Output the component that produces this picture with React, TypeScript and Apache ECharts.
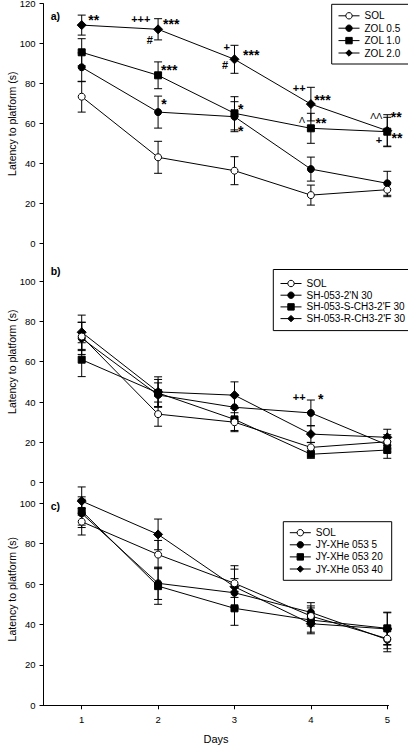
import React, { useEffect, useRef } from 'react';
import * as echarts from 'echarts';

const FONT = '"Liberation Sans", Arial, Helvetica, sans-serif';

const DAYS = [1, 2, 3, 4, 5];
const Y_TICKS_A = [0, 20, 40, 60, 80, 100, 120];
const Y_TICKS_BC = [0, 20, 40, 60, 80, 100];

// Panel a
const A_NAMES = ['SOL', 'ZOL 0.5', 'ZOL 1.0', 'ZOL 2.0'];
const A_SOL = [73.5, 43.2, 36.5, 24.3, 27.0];
const A_SOL_ERR = [7.7, 8.0, 7.0, 5.0, 3.5];
const A_ZOL05 = [88.2, 65.8, 63.5, 37.3, 30.2];
const A_ZOL05_ERR = [7.2, 8.0, 7.5, 6.0, 6.0];
const A_ZOL10 = [95.7, 84.2, 65.2, 57.7, 56.0];
const A_ZOL10_ERR = [6.8, 6.7, 8.3, 7.5, 7.2];
const A_ZOL20 = [109.3, 107.2, 92.2, 69.8, 56.5];
const A_ZOL20_ERR = [5.0, 5.3, 7.0, 8.4, 8.0];

// Panel b
const B_NAMES = ['SOL', "SH-053-2'N 30", "SH-053-S-CH3-2'F 30", "SH-053-R-CH3-2'F 30"];
const B_SOL = [72.5, 34.0, 30.0, 17.5, 20.3];
const B_SOL_ERR = [7.0, 6.0, 4.7, 2.5, 3.5];
const B_2N = [71.6, 43.5, 37.4, 34.6, 18.7];
const B_2N_ERR = [8.0, 6.0, 6.0, 6.4, 3.5];
const B_S = [61.0, 44.5, 31.4, 14.1, 16.2];
const B_S_ERR = [8.4, 6.7, 5.5, 2.0, 4.1];
const B_R = [74.6, 45.0, 43.4, 24.1, 22.5];
const B_R_ERR = [8.5, 7.5, 6.6, 4.2, 4.0];

// Panel c
const C_NAMES = ['SOL', 'JY-XHe 053 5', 'JY-XHe 053 20', 'JY-XHe 053 40'];
const C_SOL = [90.9, 74.6, 60.4, 44.2, 33.0];
const C_SOL_ERR = [6.6, 7.0, 7.0, 5.0, 5.0];
const C_5 = [95.0, 60.4, 55.7, 46.0, 32.5];
const C_5_ERR = [7.0, 8.0, 7.0, 4.8, 6.0];
const C_20 = [96.2, 59.0, 48.0, 42.2, 38.1];
const C_20_ERR = [7.0, 9.0, 8.4, 6.0, 8.0];
const C_40 = [101.1, 84.6, 58.7, 40.4, 37.8];
const C_40_ERR = [7.0, 7.6, 10.4, 5.0, 8.0];

// Significance marks: [day position, latency position, text]
const A_MARKS: [number, number, string][] = [
  [1.158, 113.5, '**'],
  [1.774, 112.2, '+++'],
  [2.171, 111.3, '***'],
  [1.89, 101.8, '#'],
  [2.145, 88.5, '***'],
  [2.077, 71.3, '*'],
  [2.898, 98.2, '+'],
  [2.876, 89.3, '#'],
  [3.219, 96.0, '***'],
  [3.081, 69.0, '*'],
  [3.081, 58.0, '*'],
  [3.847, 77.7, '++'],
  [4.152, 73.3, '***'],
  [3.885, 62.0, 'Λ'],
  [4.132, 62.2, '**'],
  [4.855, 63.8, 'ΛΛ'],
  [5.118, 65.2, '**'],
  [4.891, 51.8, '+'],
  [5.127, 54.3, '**'],
];
const B_MARKS: [number, number, string][] = [
  [3.848, 42.6, '++'],
  [4.128, 43.0, '*'],
];

const SYMBOLS = ['circle', 'circle', 'rect', 'diamond'];
const SYMBOL_SIZES = [7, 7, 7, 9];
const FILLS = ['#fff', '#000', '#000', '#000'];

type Panel = {
  names: string[];
  values: number[][];
  errs: number[][];
  marks: [number, number, string][];
};

const PANELS: Panel[] = [
  {
    names: A_NAMES,
    values: [A_SOL, A_ZOL05, A_ZOL10, A_ZOL20],
    errs: [A_SOL_ERR, A_ZOL05_ERR, A_ZOL10_ERR, A_ZOL20_ERR],
    marks: A_MARKS,
  },
  {
    names: B_NAMES,
    values: [B_SOL, B_2N, B_S, B_R],
    errs: [B_SOL_ERR, B_2N_ERR, B_S_ERR, B_R_ERR],
    marks: B_MARKS,
  },
  {
    names: C_NAMES,
    values: [C_SOL, C_5, C_20, C_40],
    errs: [C_SOL_ERR, C_5_ERR, C_20_ERR, C_40_ERR],
    marks: [],
  },
];

// layout (pixels)
const GRID_LEFT = 43.5;
const GRID_WIDTH = 345;
const GRIDS = [
  { top: 3.7, height: 240, max: 120 },
  { top: 240.7, height: 242, max: 120 },
  { top: 473.0, height: 232.3, max: 115 },
];
const LEGENDS = [
  { left: 331.7, top: 4.3, padding: [6.5, 9, 6, 6.3], itemGap: 2.4 },
  { left: 273.3, top: 269.5, padding: [9, 9, 7, 6.7], itemGap: 1.7 },
  { left: 283.3, top: 521.7, padding: [6, 9, 6.3, 6], itemGap: 2.1 },
];
const PANEL_LABELS = [
  { text: 'a)', y: 15.5 },
  { text: 'b)', y: 270.5 },
  { text: 'c)', y: 505.5 },
];

function buildOption() {
  const grid: any[] = [];
  const xAxis: any[] = [];
  const yAxis: any[] = [];
  const series: any[] = [];
  const legend: any[] = [];

  PANELS.forEach((panel, p) => {
    const g = GRIDS[p];
    grid.push({
      left: GRID_LEFT,
      top: g.top,
      width: GRID_WIDTH,
      height: g.height,
      outerBoundsMode: 'none',
    });
    const isLast = p === PANELS.length - 1;
    xAxis.push({
      gridIndex: p,
      type: 'value',
      min: 0.5,
      max: 5.016,
      show: isLast,
      name: isLast ? 'Days' : '',
      nameLocation: 'middle',
      nameGap: 28,
      nameMoveOverlap: false,
      nameTextStyle: { fontFamily: FONT, fontSize: 11, color: '#000' },
      axisLine: { show: true, onZero: false, lineStyle: { color: '#000', width: 1 } },
      axisTick: { show: true, length: 4, customValues: DAYS, lineStyle: { color: '#000', width: 1 } },
      axisLabel: { show: true, customValues: DAYS, margin: 9, fontFamily: FONT, fontSize: 9.5, color: '#000' },
      splitLine: { show: false },
    });
    const ticks = p === 0 ? Y_TICKS_A : Y_TICKS_BC;
    yAxis.push({
      gridIndex: p,
      type: 'value',
      min: 0,
      max: g.max,
      name: 'Latency to platform (s)',
      nameLocation: 'middle',
      nameGap: 26,
      nameMoveOverlap: false,
      nameTextStyle: { fontFamily: FONT, fontSize: 10.5, color: '#000' },
      axisLine: { show: true, lineStyle: { color: '#000', width: 1 } },
      axisTick: { show: true, length: 4, customValues: ticks, lineStyle: { color: '#000', width: 1 } },
      axisLabel: { show: true, customValues: ticks, margin: 8, fontFamily: FONT, fontSize: 9.5, color: '#000' },
      splitLine: { show: false },
    });

    // error bars
    const errData: number[][] = [];
    panel.values.forEach((vals, j) => {
      vals.forEach((v, i) => {
        const e = panel.errs[j][i];
        errData.push([DAYS[i], v - e, v + e]);
      });
    });
    series.push({
      type: 'custom',
      xAxisIndex: p,
      yAxisIndex: p,
      silent: true,
      z: 2,
      itemStyle: { color: '#000' },
      encode: { x: 0, y: [1, 2] },
      data: errData,
      renderItem: (params: any, api: any) => {
        const x = api.value(0);
        const lo = api.coord([x, api.value(1)]);
        const hi = api.coord([x, api.value(2)]);
        const w = 4;
        const st = { stroke: '#000', lineWidth: 1 };
        return {
          type: 'group',
          children: [
            { type: 'line', shape: { x1: lo[0], y1: lo[1], x2: hi[0], y2: hi[1] }, style: st },
            { type: 'line', shape: { x1: lo[0] - w, y1: lo[1], x2: lo[0] + w, y2: lo[1] }, style: st },
            { type: 'line', shape: { x1: hi[0] - w, y1: hi[1], x2: hi[0] + w, y2: hi[1] }, style: st },
          ],
        };
      },
    });

    // lines
    panel.values.forEach((vals, j) => {
      series.push({
        type: 'line',
        name: panel.names[j],
        xAxisIndex: p,
        yAxisIndex: p,
        data: vals.map((v, i) => [DAYS[i], v]),
        symbol: SYMBOLS[j],
        symbolSize: SYMBOL_SIZES[j],
        showSymbol: true,
        z: 3 + (3 - j),
        lineStyle: { color: '#000', width: 1 },
        itemStyle: { color: FILLS[j], borderColor: '#000', borderWidth: 1 },
        emphasis: { disabled: true },
      });
    });

    // significance marks
    if (panel.marks.length) {
      const marks = panel.marks;
      series.push({
        type: 'custom',
        xAxisIndex: p,
        yAxisIndex: p,
        silent: true,
        z: 10,
        clip: false,
        itemStyle: { color: '#000' },
        encode: { x: 0, y: 1 },
        data: marks.map((m) => [m[0], m[1]]),
        renderItem: (params: any, api: any) => {
          const m = marks[params.dataIndex];
          const pt = api.coord([api.value(0), api.value(1)]);
          const txt = m[2];
          const isStar = txt.indexOf('*') >= 0;
          const isLambda = txt.indexOf('Λ') >= 0;
          const size = isStar ? 14 : isLambda ? 9 : 11;
          const weight = isLambda ? 'normal' : 'bold';
          return {
            type: 'text',
            x: pt[0],
            y: pt[1] + (isStar ? 3.2 : 0),
            style: {
              text: txt,
              align: 'center',
              verticalAlign: 'middle',
              fontSize: size,
              fontWeight: weight,
              fontFamily: FONT,
              fill: '#000',
              stroke: null,
            },
          };
        },
      });
    }

    const lg = LEGENDS[p];
    legend.push({
      orient: 'vertical',
      left: lg.left,
      top: lg.top,
      padding: lg.padding,
      itemGap: lg.itemGap,
      itemWidth: 21,
      itemHeight: 8,
      borderColor: '#000',
      borderWidth: 1,
      borderRadius: 0,
      backgroundColor: '#fff',
      selectedMode: false,
      itemStyle: { borderWidth: 1 },
      lineStyle: { width: 1 },
      textStyle: { fontFamily: FONT, fontSize: 10, color: '#000', lineHeight: 10 },
      data: panel.names,
    });
  });

  const graphic = PANEL_LABELS.map((l) => ({
    type: 'text',
    x: 50.7,
    y: l.y,
    z: 20,
    style: {
      text: l.text,
      align: 'left',
      verticalAlign: 'middle',
      fontSize: 10.5,
      fontWeight: 'bold',
      fontFamily: FONT,
      fill: '#000',
    },
  }));

  return {
    animation: false,
    backgroundColor: '#fff',
    textStyle: { fontFamily: FONT },
    grid,
    xAxis,
    yAxis,
    series,
    legend,
    graphic,
  };
}

export default function App() {
  const ref = useRef<HTMLDivElement>(null);
  useEffect(() => {
    if (!ref.current) return;
    const chart = echarts.init(ref.current, undefined, { renderer: 'svg' });
    chart.setOption(buildOption() as any);
    return () => chart.dispose();
  }, []);
  return (
    <div
      ref={ref}
      style={{ position: 'absolute', left: 0, top: 0, width: 408, height: 746, background: '#fff' }}
    />
  );
}
